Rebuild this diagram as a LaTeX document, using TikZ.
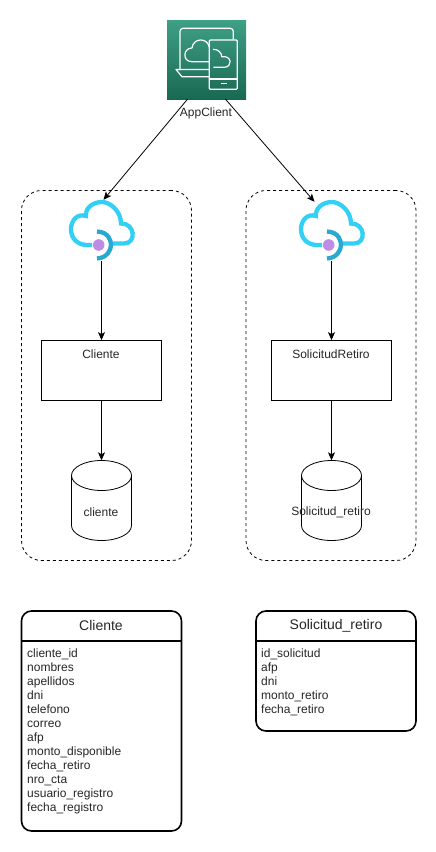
\documentclass[tikz,border=0pt]{standalone}
\usepackage{fontspec}
\setmainfont{Liberation Sans}
\usetikzlibrary{arrows.meta,shapes.geometric}

\begin{document}
\begin{tikzpicture}[>={Stealth[length=8pt,width=7pt,inset=2pt]}, x=1pt, y=-1pt]

\definecolor{cloudblue}{RGB}{50, 208, 245}
\definecolor{clouddark}{RGB}{41, 168, 208}
\definecolor{dotpurple}{RGB}{190, 140, 228}
\definecolor{apptop}{RGB}{62, 160, 134}
\definecolor{appbottom}{RGB}{26, 104, 82}

\tikzset{
    txt/.style={font=\fontsize{12}{14}\selectfont, text=black!85, inner sep=0pt},
    title/.style={font=\fontsize{14}{16}\selectfont, text=black!85, inner sep=0pt},
    region/.style={draw, dashed, dash pattern=on 3pt off 3pt, rounded corners=20pt, line width=0.8pt,
        minimum width=170pt, minimum height=370pt, inner sep=0pt},
    service/.style={draw, line width=0.8pt, minimum width=120pt, minimum height=60pt, inner sep=0pt},
    store/.style={minimum width=60pt, minimum height=80pt, inner sep=0pt},
    gateway/.style={minimum width=64pt, minimum height=61pt, inner sep=0pt},
    table/.style={draw, line width=1.6pt, rounded corners=10pt, minimum width=160pt, inner sep=0pt},
    flow/.style={->, line width=0.8pt},
    icon line/.style={draw=white, line width=1.2pt, line join=round},
    pics/drum/.style={code={
        \draw[line width=0.8pt] (0,-25) ellipse [x radius=30, y radius=15];
        \draw[line width=0.8pt] (-30,-25) -- (-30,25)
            .. controls (-30,33.3) and (-16.6,40) .. (0,40)
            .. controls (16.6,40) and (30,33.3) .. (30,25) -- (30,-25);
    }},
    pics/cloudgw/.style={code={
        \draw[cloudblue, line width=4.3pt] (63,58.5) -- (74,58.5)
            .. controls (87,58.5) and (85,38) .. (71,38.5)
            .. controls (71,26) and (60,17) .. (52,17)
            .. controls (43,17) and (35,23) .. (36,31)
            .. controls (27,28) and (21,36) .. (21,44)
            .. controls (21,54) and (28,60) .. (37,60) -- (42,60);
        \draw[clouddark, line width=4.3pt] (47,46.5) .. controls (59,47) and (61,56) .. (61,60)
            .. controls (61,65) and (57,73) .. (47,73.5);
        \fill[dotpurple] (48.7,60) circle (5.8);
    }}
}

\useasboundingbox (0,0) rectangle (436,852);

% AppClient icon
\node[minimum width=79pt, minimum height=79pt, inner sep=0pt, top color=apptop, bottom color=appbottom] (appclient) at (206.5,59.5) {};
\draw[icon line, rounded corners=3pt] (180,70) -- (180,28.3) -- (233.3,28.3) -- (233.3,39.3);
\draw[icon line] (209.3,69.5) -- (176,69.5) -- (182,76.7) -- (209.3,76.7);
\draw[icon line, rounded corners=1pt] (209.3,40) rectangle (237.3,89.3);
\draw[icon line] (209.3,79) -- (237.3,79);
\draw[icon line] (220.7,83.3) -- (227.3,83.3);
\draw[icon line] (209.3,61.7) -- (192,61.7)
    .. controls (182,61.7) and (183,48) .. (192,48)
    .. controls (193,38) and (207,37) .. (209.3,47);
\draw[icon line] (213,49.3) .. controls (218,49) and (222,53) .. (221.7,56.7)
    .. controls (232,55) and (233,67.3) .. (224,67.3) -- (213.3,67.3);
\node[txt] (applabel) at (206,113) {AppClient};

% Dashed regions
\node[region] (regioncliente) at (106.5,375.5) {};
\node[region] (regionretiro) at (331,375.5) {};

% Cloud icons
\node[gateway] (gwcliente) at (101.5,230.5) {};
\node[gateway] (gwretiro) at (331.5,230.5) {};
\pic at (50,185) {cloudgw};
\pic at (280,185) {cloudgw};

% Services
\node[service] (cliente) at (101.5,370.5) {};
\node[service] (retiro) at (331.5,370.5) {};
\node[txt] (lblcliente) at (101,354) {Cliente};
\node[txt] (lblretiro) at (331,354) {SolicitudRetiro};

% Databases
\node[store] (dbcliente) at (101.5,500.5) {};
\node[store] (dbretiro) at (331.5,500.5) {};
\pic at (101.5,500.5) {drum};
\pic at (331.5,500.5) {drum};
\node[txt] (lbldbcliente) at (101,512.5) {cliente};
\node[txt] (lbldbretiro) at (331,512.5) {Solicitud\_retiro};

% Connectors
\draw[flow] ([xshift=-19pt]appclient.south) -- ([xshift=2pt]gwcliente.north);
\draw[flow] ([xshift=19pt]appclient.south) -- ([xshift=-17pt,yshift=-2pt]gwretiro.north);
\draw[flow] (gwcliente) -- (cliente);
\draw[flow] (gwretiro) -- (retiro);
\draw[flow] (cliente) -- (dbcliente);
\draw[flow] (retiro) -- (dbretiro);

% Tables
\node[table, minimum height=220pt] (tblcliente) at (101.5,721) {};
\draw[line width=1.6pt] (tblcliente.west |- 0,641) -- (tblcliente.east |- 0,641);
\node[title] (tblclientetitle) at (101,625.5) {Cliente};
\node[txt, anchor=north west, align=left] (tblclienterows) at (27,649) {cliente\_id\\nombres\\apellidos\\dni\\telefono\\correo\\afp\\monto\_disponible\\fecha\_retiro\\nro\_cta\\usuario\_registro\\fecha\_registro};

\node[table, minimum height=120pt] (tblretiro) at (336,671) {};
\draw[line width=1.6pt] (tblretiro.west |- 0,641) -- (tblretiro.east |- 0,641);
\node[title] (tblretirotitle) at (336,625.5) {Solicitud\_retiro};
\node[txt, anchor=north west, align=left] (tblretirorows) at (261,649) {id\_solicitud\\afp\\dni\\monto\_retiro\\fecha\_retiro};

\end{tikzpicture}
\end{document}
